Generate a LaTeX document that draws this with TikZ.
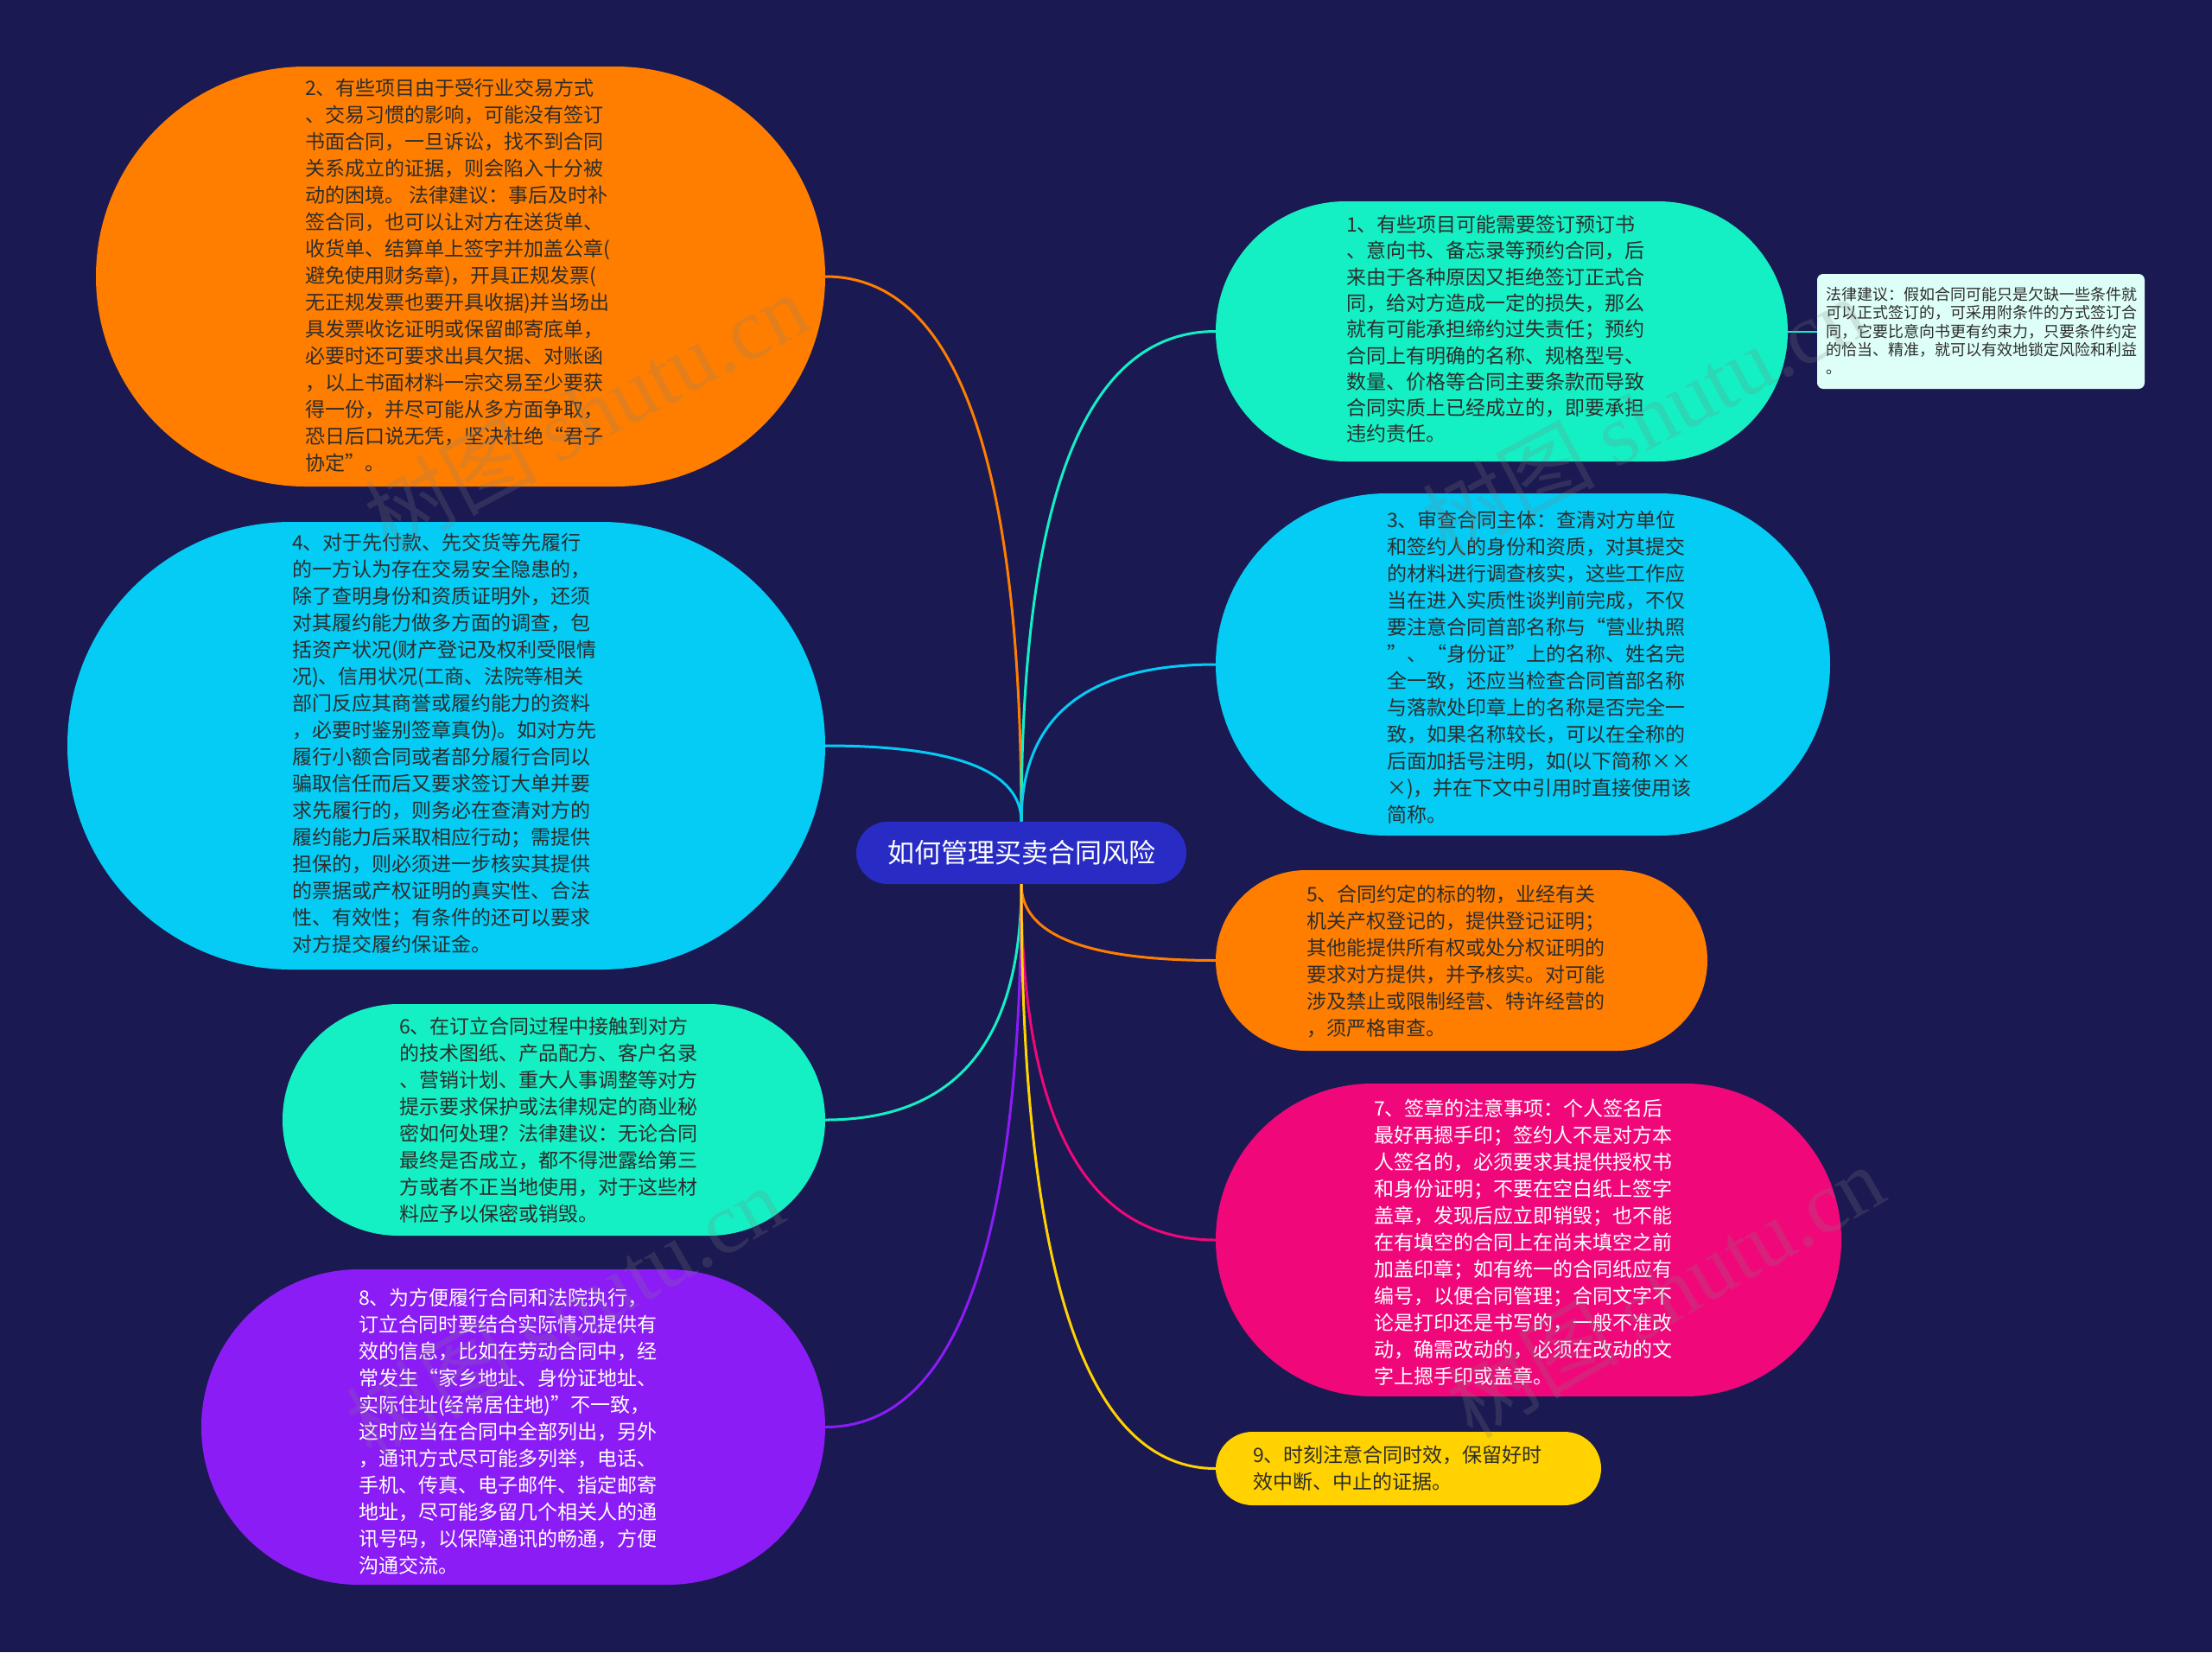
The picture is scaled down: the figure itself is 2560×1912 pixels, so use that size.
\documentclass[tikz,border=0pt]{standalone}
\usepackage{fontspec}
\setmainfont{Noto Sans CJK SC}
\newfontfamily\wmserif{Liberation Serif}
\usetikzlibrary{shapes.misc,calc}
\definecolor{bgc}{RGB}{27,25,82}
\definecolor{corange}{RGB}{255,126,0}
\definecolor{ccyan}{RGB}{4,204,244}
\definecolor{cgreen}{RGB}{20,240,196}
\definecolor{cpurple}{RGB}{139,28,246}
\definecolor{cpink}{RGB}{240,8,122}
\definecolor{cyellow}{RGB}{255,210,0}
\definecolor{ccenter}{RGB}{40,44,196}
\definecolor{cnote}{RGB}{222,255,248}
\definecolor{dark}{RGB}{45,45,45}
\newcommand\mmlink[3]{\draw[conn,#1] (#2) .. controls ($(#2)!0.667!(#2 |- #3)$) and ($(#3)!0.667!(#2 |- #3)$) .. (#3);}
\begin{document}
\begin{tikzpicture}[x=1pt,y=-1pt,
  bub/.style={rounded rectangle, inner sep=0pt, draw=none},
  txt/.style={align=left, inner sep=0pt, anchor=west, font=\fontsize{23}{31}\selectfont, text=dark},
  conn/.style={line width=3pt},
  wm/.style={font=\fontsize{100}{100}\selectfont, text=gray, opacity=0.22, inner sep=0pt}]
\useasboundingbox (0,0) rectangle (2560,1912);
\fill[bgc] (0,0) rectangle (2560,1912);

% center
\node[bub, fill=ccenter, minimum width=382pt, minimum height=72pt, text=white, font=\fontsize{31}{36}\selectfont] (c) at (1182,987) {如何管理买卖合同风险};

% left side shapes
\node[bub, fill=corange, minimum width=844pt, minimum height=486pt] (b2) at (533,320) {};
\node[bub, fill=ccyan, minimum width=877pt, minimum height=518pt] (b4) at (516.5,863) {};
\node[bub, fill=cgreen, minimum width=628pt, minimum height=268pt] (b6) at (641,1296) {};
\node[bub, fill=cpurple, minimum width=722pt, minimum height=365pt] (b8) at (594,1651.5) {};
% right side shapes
\node[bub, fill=cgreen, minimum width=662pt, minimum height=301pt] (b1) at (1738,383.5) {};
\node[bub, fill=ccyan, minimum width=711pt, minimum height=396pt] (b3) at (1762.5,769) {};
\node[bub, fill=corange, minimum width=569pt, minimum height=209pt] (b5) at (1691.5,1111.5) {};
\node[bub, fill=cpink, minimum width=724pt, minimum height=362pt] (b7) at (1769,1435) {};
\node[bub, fill=cyellow, minimum width=446pt, minimum height=85pt] (b9) at (1630,1699.5) {};
\node[rectangle, rounded corners=7pt, fill=cnote, minimum width=379pt, minimum height=133pt, inner sep=0pt] (bn) at (2292.5,383.5) {};

% texts
\node[txt] (t2) at (353,319) {2、有些项目由于受行业交易方式\\、交易习惯的影响，可能没有签订\\书面合同，一旦诉讼，找不到合同\\关系成立的证据，则会陷入十分被\\动的困境。 法律建议：事后及时补\\签合同，也可以让对方在送货单、\\收货单、结算单上签字并加盖公章(\\避免使用财务章)，开具正规发票(\\无正规发票也要开具收据)并当场出\\具发票收讫证明或保留邮寄底单，\\必要时还可要求出具欠据、对账函\\，以上书面材料一宗交易至少要获\\得一份，并尽可能从多方面争取，\\恐日后口说无凭，坚决杜绝“君子\\协定”。};
\node[txt] (t4) at (338,860.5) {4、对于先付款、先交货等先履行\\的一方认为存在交易安全隐患的，\\除了查明身份和资质证明外，还须\\对其履约能力做多方面的调查，包\\括资产状况(财产登记及权利受限情\\况)、信用状况(工商、法院等相关\\部门反应其商誉或履约能力的资料\\，必要时鉴别签章真伪)。如对方先\\履行小额合同或者部分履行合同以\\骗取信任而后又要求签订大单并要\\求先履行的，则务必在查清对方的\\履约能力后采取相应行动；需提供\\担保的，则必须进一步核实其提供\\的票据或产权证明的真实性、合法\\性、有效性；有条件的还可以要求\\对方提交履约保证金。};
\node[txt] (t6) at (462,1296.5) {6、在订立合同过程中接触到对方\\的技术图纸、产品配方、客户名录\\、营销计划、重大人事调整等对方\\提示要求保护或法律规定的商业秘\\密如何处理？法律建议：无论合同\\最终是否成立，都不得泄露给第三\\方或者不正当地使用，对于这些材\\料应予以保密或销毁。};
\node[txt, text=white] (t8) at (415,1656.5) {8、为方便履行合同和法院执行，\\订立合同时要结合实际情况提供有\\效的信息，比如在劳动合同中，经\\常发生“家乡地址、身份证地址、\\实际住址(经常居住地)”不一致，\\这时应当在合同中全部列出，另外\\，通讯方式尽可能多列举，电话、\\手机、传真、电子邮件、指定邮寄\\地址，尽可能多留几个相关人的通\\讯号码，以保障通讯的畅通，方便\\沟通交流。};
\node[txt, font=\fontsize{23}{30.3}\selectfont] (t1) at (1558,381) {1、有些项目可能需要签订预订书\\、意向书、备忘录等预约合同，后\\来由于各种原因又拒绝签订正式合\\同，给对方造成一定的损失，那么\\就有可能承担缔约过失责任；预约\\合同上有明确的名称、规格型号、\\数量、价格等合同主要条款而导致\\合同实质上已经成立的，即要承担\\违约责任。};
\node[txt] (t3) at (1605,772) {3、审查合同主体：查清对方单位\\和签约人的身份和资质，对其提交\\的材料进行调查核实，这些工作应\\当在进入实质性谈判前完成，不仅\\要注意合同首部名称与“营业执照\\”、“身份证”上的名称、姓名完\\全一致，还应当检查合同首部名称\\与落款处印章上的名称是否完全一\\致，如果名称较长，可以在全称的\\后面加括号注明，如(以下简称××\\×)，并在下文中引用时直接使用该\\简称。};
\node[txt] (t5) at (1512,1112.5) {5、合同约定的标的物，业经有关\\机关产权登记的，提供登记证明；\\其他能提供所有权或处分权证明的\\要求对方提供，并予核实。对可能\\涉及禁止或限制经营、特许经营的\\，须严格审查。};
\node[txt, text=white] (t7) at (1590,1437.5) {7、签章的注意事项：个人签名后\\最好再摁手印；签约人不是对方本\\人签名的，必须要求其提供授权书\\和身份证明；不要在空白纸上签字\\盖章，发现后应立即销毁；也不能\\在有填空的合同上在尚未填空之前\\加盖印章；如有统一的合同纸应有\\编号，以便合同管理；合同文字不\\论是打印还是书写的，一般不准改\\动，确需改动的，必须在改动的文\\字上摁手印或盖章。};
\node[txt] (t9) at (1450,1699) {9、时刻注意合同时效，保留好时\\效中断、中止的证据。};
\node[txt, font=\fontsize{18}{21.4}\selectfont] (tn) at (2113,383) {法律建议：假如合同可能只是欠缺一些条件就\\可以正式签订的，可采用附条件的方式签订合\\同，它要比意向书更有约束力，只要条件约定\\的恰当、精准，就可以有效地锁定风险和利益\\。};

% connectors
\mmlink{corange}{c.north}{b2.east}
\mmlink{ccyan}{c.north}{b4.east}
\mmlink{cgreen}{c.south}{b6.east}
\mmlink{cpurple}{c.south}{b8.east}
\mmlink{cgreen}{c.north}{b1.west}
\mmlink{ccyan}{c.north}{b3.west}
\mmlink{corange}{c.south}{b5.west}
\mmlink{cpink}{c.south}{b7.west}
\mmlink{cyellow}{c.south}{b9.west}
\draw[conn, cgreen, line width=2pt] (b1.east) -- (bn.west);

% watermarks
\node[wm, rotate=28] (w1) at (678,477) {树图 {\wmserif shutu.cn}};
\node[wm, rotate=28] (w2) at (1902,482) {树图 {\wmserif shutu.cn}};
\node[wm, rotate=30] (w3) at (653,1518) {树图 {\wmserif shutu.cn}};
\node[wm, rotate=30] (w4) at (1927,1494) {树图 {\wmserif shutu.cn}};
\end{tikzpicture}
\end{document}
